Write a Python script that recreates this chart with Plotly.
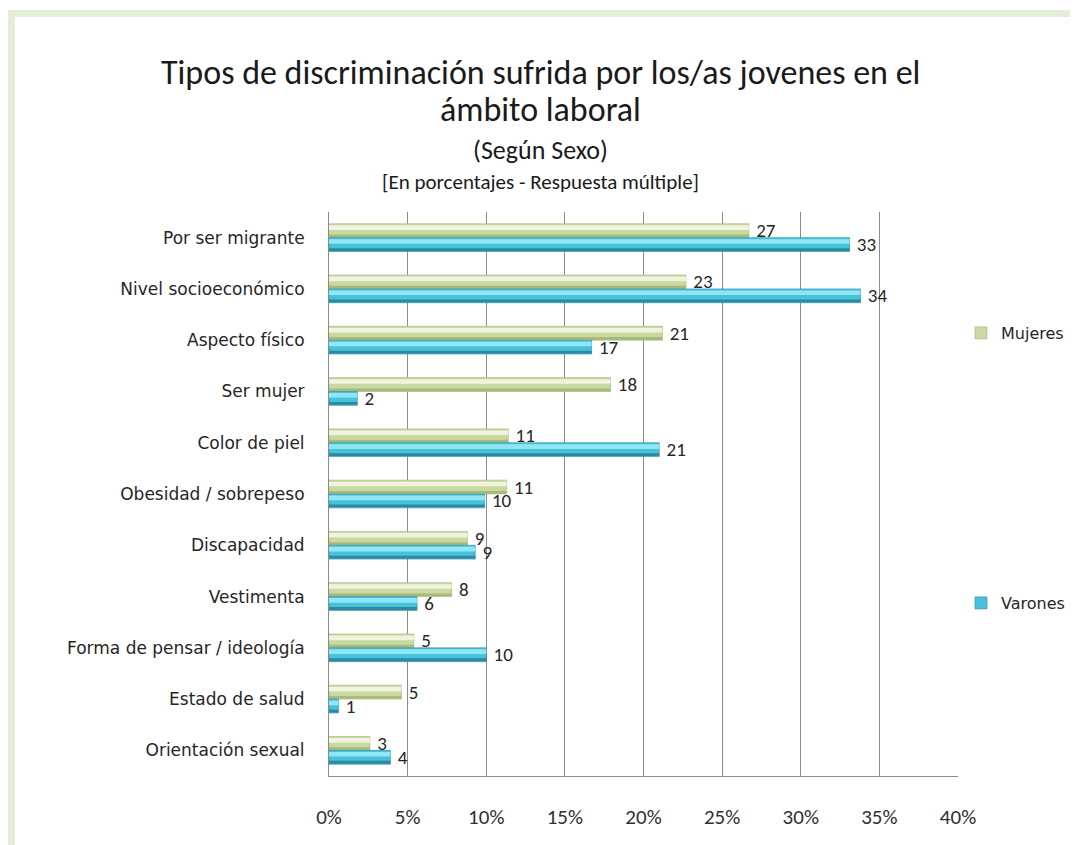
import plotly.graph_objects as go

categorias = [
    "Por ser migrante",
    "Nivel socioeconómico",
    "Aspecto físico",
    "Ser mujer",
    "Color de piel",
    "Obesidad / sobrepeso",
    "Discapacidad",
    "Vestimenta",
    "Forma de pensar / ideología",
    "Estado de salud",
    "Orientación sexual",
]
mujeres = [26.7, 22.7, 21.2, 17.9, 11.4, 11.3, 8.8, 7.8, 5.4, 4.6, 2.6]
varones = [33.1, 33.8, 16.7, 1.8, 21.0, 9.9, 9.3, 5.6, 10.0, 0.6, 3.9]
ticks_x = [0, 5, 10, 15, 20, 25, 30, 35, 40]
tick_labels = [f"{t}%" for t in ticks_x]

# page body adds an 8px margin, so work in reference pixels minus that
OFF = 8
W, H = 1078 - OFF, 845 - OFF
L, R, T, B = 329 - OFF, 958 - OFF, 212 - OFF, 776 - OFF


def px_x(p):
    return (p - OFF - L) / (R - L)


def px_y(p):
    return (B - (p - OFF)) / (B - T)


CAL = "Carlito, Calibri, Lato, sans-serif"
WIDE = "DejaVu Sans, Verdana, sans-serif"

bw = 0.27  # bar thickness in category units
fig = go.Figure()

# Mujeres: main bar + shading strips
fig.add_trace(go.Bar(
    y=categorias, x=mujeres, orientation="h", name="Mujeres",
    offset=-bw, width=bw,
    marker=dict(color="#cad8a2", line=dict(color="#a3b573", width=0.6)),
    text=[f" {round(v)}" for v in mujeres], textposition="outside",
    constraintext="none",
    textfont=dict(family=CAL, size=19, color="#262626"),
    cliponaxis=False, legend="legend",
))
fig.add_trace(go.Bar(
    y=categorias, x=mujeres, orientation="h", showlegend=False,
    offset=-bw + 0.03, width=0.09, marker=dict(color="#eff4de", line=dict(width=0)),
    hoverinfo="skip",
))
fig.add_trace(go.Bar(
    y=categorias, x=mujeres, orientation="h", showlegend=False,
    offset=-0.06, width=0.055, marker=dict(color="#a8ba79", line=dict(width=0)),
    hoverinfo="skip",
))

# Varones: main bar + shading strips
fig.add_trace(go.Bar(
    y=categorias, x=varones, orientation="h", name="Varones",
    offset=0, width=bw,
    marker=dict(color="#48c2da", line=dict(color="#2a88a2", width=0.6)),
    text=[f" {round(v)}" for v in varones], textposition="outside",
    constraintext="none",
    textfont=dict(family=CAL, size=19, color="#262626"),
    cliponaxis=False, legend="legend2",
))
fig.add_trace(go.Bar(
    y=categorias, x=varones, orientation="h", showlegend=False,
    offset=0.03, width=0.09, marker=dict(color="#8fe7f6", line=dict(width=0)),
    hoverinfo="skip",
))
fig.add_trace(go.Bar(
    y=categorias, x=varones, orientation="h", showlegend=False,
    offset=bw - 0.065, width=0.055, marker=dict(color="#2b89a3", line=dict(width=0)),
    hoverinfo="skip",
))

shapes = [
    dict(type="rect", xref="paper", yref="paper", layer="below",
         x0=px_x(6), x1=px_x(1080), y0=px_y(10), y1=px_y(17),
         fillcolor="#e3edd7", line=dict(width=0)),
    dict(type="rect", xref="paper", yref="paper", layer="below",
         x0=px_x(7), x1=px_x(15), y0=px_y(10), y1=px_y(850),
         fillcolor="#e3edd7", line=dict(width=0)),
]

annotations = [
    dict(text="Tipos de discriminación sufrida por los/as jovenes en el", y=72, size=34),
    dict(text="ámbito laboral", y=110, size=34),
    dict(text="(Según Sexo)", y=150, size=26),
    dict(text="[En porcentajes - Respuesta múltiple]", y=182, size=21),
]
annotations = [
    dict(text=a["text"], xref="paper", yref="paper", x=px_x(540), y=px_y(a["y"]),
         xanchor="center", yanchor="middle", showarrow=False,
         font=dict(family=CAL, size=a["size"], color="#1a1a1a"))
    for a in annotations
]

legend_style = dict(xanchor="left", yanchor="middle",
                    font=dict(family=WIDE, size=16, color="#262626"),
                    bgcolor="rgba(0,0,0,0)", itemwidth=30)

fig.update_layout(
    width=W, height=H,
    margin=dict(l=L, r=W - R, t=T, b=H - B, pad=0, autoexpand=False),
    paper_bgcolor="white", plot_bgcolor="white",
    barmode="overlay",
    shapes=shapes,
    annotations=annotations,
    legend=dict(x=px_x(961), y=px_y(333), **legend_style),
    legend2=dict(x=px_x(961), y=px_y(603), **legend_style),
    xaxis=dict(
        range=[0, 40], tickvals=ticks_x, ticktext=tick_labels,
        showgrid=True, gridcolor="#8c8c8c", gridwidth=1,
        showline=True, linecolor="#8c8c8c", linewidth=1,
        zeroline=False, ticks="", ticklabelstandoff=22,
        tickfont=dict(family=CAL, size=21, color="#303030"),
    ),
    yaxis=dict(
        categoryorder="array", categoryarray=categorias, autorange="reversed",
        showgrid=False, showline=True, linecolor="#8c8c8c", linewidth=1,
        zeroline=False, ticks="", ticklabelstandoff=20,
        tickfont=dict(family=WIDE, size=17, color="#262626"),
    ),
    showlegend=True,
)

fig.write_html("out.html")
